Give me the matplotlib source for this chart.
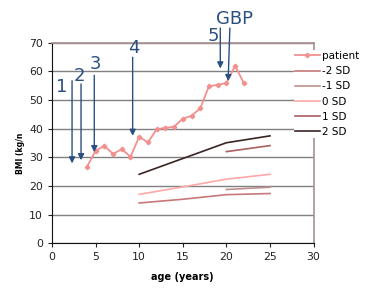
import numpy as np
import matplotlib.pyplot as plt

# patient BMI by age
age = [4, 5, 6, 7, 8, 9, 10, 11, 12, 13, 14, 15, 16, 17, 18, 19, 20, 21, 22]
bmi = [26.7, 32.3, 34.0, 31.2, 32.9, 30.2, 37.2, 35.2, 39.8, 40.3, 40.7,
       43.5, 44.5, 47.1, 54.8, 55.3, 55.9, 61.9, 55.9]

# reference curves
sd_m2_age = [10, 15, 20, 25]
sd_m2 = [14.1, 15.4, 17.0, 17.4]
sd_m1_age = [20, 25]
sd_m1 = [18.8, 19.6]
sd_0_age = [10, 15, 20, 25]
sd_0 = [17.1, 19.7, 22.4, 24.1]
sd_1_age = [20, 25]
sd_1 = [32.0, 34.1]
sd_2_age = [10, 15, 20, 25]
sd_2 = [24.1, 29.6, 35.1, 37.5]

# arrows: label, label pos, arrow start, arrow end
arrows = [
    ("1", (1.15, 54.5), (2.3, 56.7), (2.3, 27.9)),
    ("2", (3.1, 58.4), (3.33, 55.6), (3.33, 29.0)),
    ("3", (4.93, 62.6), (4.85, 58.6), (4.85, 31.8)),
    ("4", (9.4, 68.2), (9.25, 64.9), (9.25, 37.5)),
    ("5", (18.5, 72.3), (19.3, 75.1), (19.3, 61.0)),
    ("GBP", (20.9, 78.3), (20.4, 75.1), (20.2, 56.6)),
]

fig = plt.figure(figsize=(3.91, 2.94), dpi=100)
ax = fig.add_axes([0.133, 0.172, 0.669, 0.683])

ax.plot(age, bmi, color="#f29090", marker="D", markersize=2.3, lw=1.3, label="patient")
ax.plot(sd_m2_age, sd_m2, color="#c87878", lw=1.2, label="-2 SD")
ax.plot(sd_m1_age, sd_m1, color="#c09090", lw=1.2, label="-1 SD")
ax.plot(sd_0_age, sd_0, color="#ffa8a8", lw=1.2, label="0 SD")
ax.plot(sd_1_age, sd_1, color="#a86060", lw=1.2, label="1 SD")
ax.plot(sd_2_age, sd_2, color="#3a2424", lw=1.2, label="2 SD")

ax.set_xlim(0, 30)
ax.set_ylim(0, 70)
ax.set_xticks(range(0, 31, 5))
ax.set_yticks(range(0, 71, 10))
ax.yaxis.grid(True, color="#808080", lw=1)
ax.set_axisbelow(True)
ax.tick_params(labelsize=7.8, length=3, width=0.8, colors="#222222")
for s in ["left", "bottom"]:
    ax.spines[s].set_color("#111111")
for s in ["top", "right"]:
    ax.spines[s].set_color("#a89090")
    ax.spines[s].set_linewidth(1.2)

ax.set_xlabel("age (years)", fontsize=7, fontweight="bold", labelpad=7)
fig.text(0.052, 0.48, "BMI (kg/n", rotation=90, fontsize=5.5, fontweight="bold",
         ha="center", va="center")

for lab, lpos, start, end in arrows:
    ax.annotate("", xy=end, xytext=start, annotation_clip=False,
                arrowprops=dict(arrowstyle="-|>", color="#2a5082", lw=1.0,
                                mutation_scale=9, shrinkA=0, shrinkB=0))
    ax.text(lpos[0], lpos[1], lab, fontsize=13, color="#2a5082",
            ha="center", va="center", clip_on=False)

leg = ax.legend(loc="upper left", bbox_to_anchor=(0.738, 0.848), bbox_transform=fig.transFigure,
                fontsize=7.5, frameon=True, facecolor="white", edgecolor="none",
                framealpha=1, fancybox=False, handlelength=2.4, handletextpad=0.2,
                labelspacing=0.5, borderpad=0.1)

fig.savefig("out.png")
